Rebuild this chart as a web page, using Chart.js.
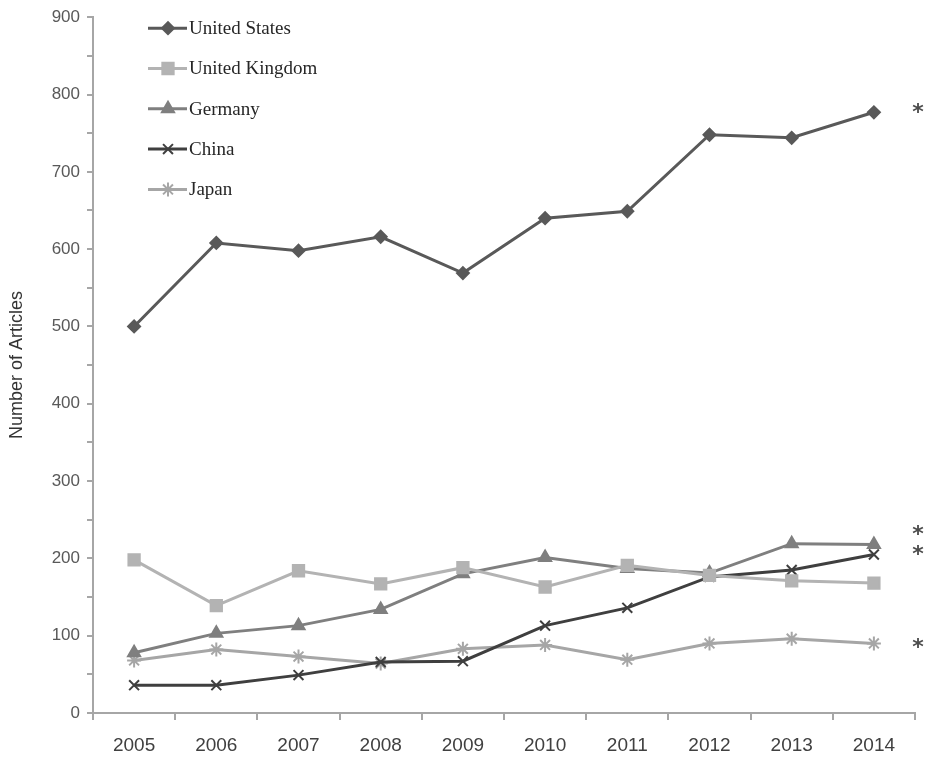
<!DOCTYPE html>
<html>
<head>
<meta charset="utf-8">
<script src="https://cdn.jsdelivr.net/npm/chart.js@4/dist/chart.umd.min.js"></script>
<style>
  html, body { margin: 0; padding: 0; background: #fff; }
  #wrap { width: 945px; height: 770px; }
</style>
</head>
<body>
<div id="wrap"><canvas id="grafico"></canvas></div>
<script>
const anos = ["2005", "2006", "2007", "2008", "2009", "2010", "2011", "2012", "2013", "2014"];
const estadosUnidos = [500, 608, 598, 616, 569, 640, 649, 748, 744, 777];
const reinoUnido = [198, 139, 184, 167, 188, 163, 191, 178, 171, 168];
const alemanha = [78, 103, 113, 134, 180, 201, 187, 181, 219, 218];
const china = [36, 36, 49, 66, 67, 113, 136, 176, 185, 205];
const japao = [68, 82, 73, 64, 83, 88, 69, 90, 96, 90];
const yTicks = [0, 100, 200, 300, 400, 500, 600, 700, 800, 900];
// series marked with * at the right end
const marcadas = ["United States", "Germany", "China", "Japan"];

const serif = "'Liberation Serif', 'Times New Roman', serif";
const sans = "'Liberation Sans', Arial, sans-serif";

function serie(label, data, cor, estilo, raio) {
  return {
    label: label,
    data: data,
    borderColor: cor,
    backgroundColor: cor,
    pointBackgroundColor: cor,
    pointBorderColor: cor,
    pointStyle: estilo,
    pointRadius: raio,
    pointHoverRadius: raio,
    pointBorderWidth: 2,
    borderWidth: 3,
    tension: 0,
  };
}

const datasets = [
  serie("United States", estadosUnidos, "#595959", "rectRot", 6),
  serie("United Kingdom", reinoUnido, "#b3b3b3", "rect", 8),
  serie("Germany", alemanha, "#7f7f7f", "triangle", 7),
  serie("China", china, "#3f3f3f", "crossRot", 7),
  serie("Japan", japao, "#a6a6a6", "star", 7),
];

// legenda dentro da área do gráfico
const legendaPlugin = {
  id: "legendaInterna",
  afterDraw(chart) {
    const ctx = chart.ctx;
    const area = chart.chartArea;
    const x0 = area.left + 55;
    ctx.save();
    chart.data.datasets.forEach((ds, i) => {
      const y = area.top + 11 + i * 40.3;
      ctx.strokeStyle = ds.borderColor;
      ctx.lineWidth = 3;
      ctx.beginPath();
      ctx.moveTo(x0, y);
      ctx.lineTo(x0 + 39, y);
      ctx.stroke();
      ctx.fillStyle = ds.borderColor;
      ctx.lineWidth = 2;
      Chart.helpers.drawPoint(ctx, { pointStyle: ds.pointStyle, radius: ds.pointRadius, rotation: 0, borderWidth: 2 }, x0 + 20, y);
      ctx.fillStyle = "#262626";
      ctx.font = "19px " + serif;
      ctx.textAlign = "left";
      ctx.textBaseline = "middle";
      ctx.fillText(ds.label, x0 + 41, y + 1);
    });
    ctx.restore();
  },
};

// asteriscos no fim das séries
const asteriscoPlugin = {
  id: "asteriscos",
  afterDraw(chart) {
    const ctx = chart.ctx;
    const yScale = chart.scales.y;
    const nudge = { "Germany": -10, "China": -1, "Japan": 4, "United States": 0 };
    ctx.save();
    ctx.fillStyle = "#4d4d4d";
    ctx.font = "bold 22px 'DejaVu Sans', sans-serif";
    ctx.textAlign = "center";
    ctx.textBaseline = "alphabetic";
    chart.data.datasets.forEach((ds) => {
      if (!marcadas.includes(ds.label)) return;
      const v = ds.data[ds.data.length - 1];
      const y = yScale.getPixelForValue(v) + (nudge[ds.label] || 0);
      ctx.fillText("*", chart.chartArea.right + 3, y + 7);
    });
    ctx.restore();
  },
};

const ctx = document.getElementById("grafico").getContext("2d");
new Chart(ctx, {
  type: "line",
  data: { labels: anos, datasets: datasets },
  plugins: [legendaPlugin, asteriscoPlugin],
  options: {
    responsive: true,
    maintainAspectRatio: false,
    animation: false,
    layout: { padding: { top: 14, right: 30, left: 0, bottom: 0 } },
    plugins: {
      legend: { display: false },
      tooltip: { enabled: false },
    },
    scales: {
      x: {
        offset: true,
        grid: {
          offset: true,
          drawOnChartArea: false,
          drawTicks: true,
          tickLength: 7,
          color: "#a6a6a6",
          lineWidth: 2,
        },
        border: { color: "#a6a6a6", width: 2 },
        ticks: {
          color: "#404040",
          font: { family: sans, size: 19 },
          padding: 14,
          maxRotation: 0,
        },
        afterFit(scale) { scale.height = 57; },
      },
      y: {
        min: 0,
        max: 900,
        afterBuildTicks(scale) {
          const t = [];
          for (let v = 0; v <= 900; v += 50) t.push({ value: v });
          scale.ticks = t;
        },
        grid: {
          drawOnChartArea: false,
          drawTicks: true,
          tickLength: 6,
          color: "#a6a6a6",
          lineWidth: 2,
        },
        border: { color: "#a6a6a6", width: 2 },
        ticks: {
          color: "#595959",
          font: { family: sans, size: 17 },
          padding: 7,
          callback: (v) => (yTicks.includes(v) ? String(v) : ""),
        },
        title: {
          display: true,
          text: "Number of Articles",
          color: "#333333",
          font: { family: sans, size: 18 },
          padding: { top: 6, bottom: 0 },
        },
        afterFit(scale) { scale.width = 93; },
      },
    },
  },
});
</script>
</body>
</html>
